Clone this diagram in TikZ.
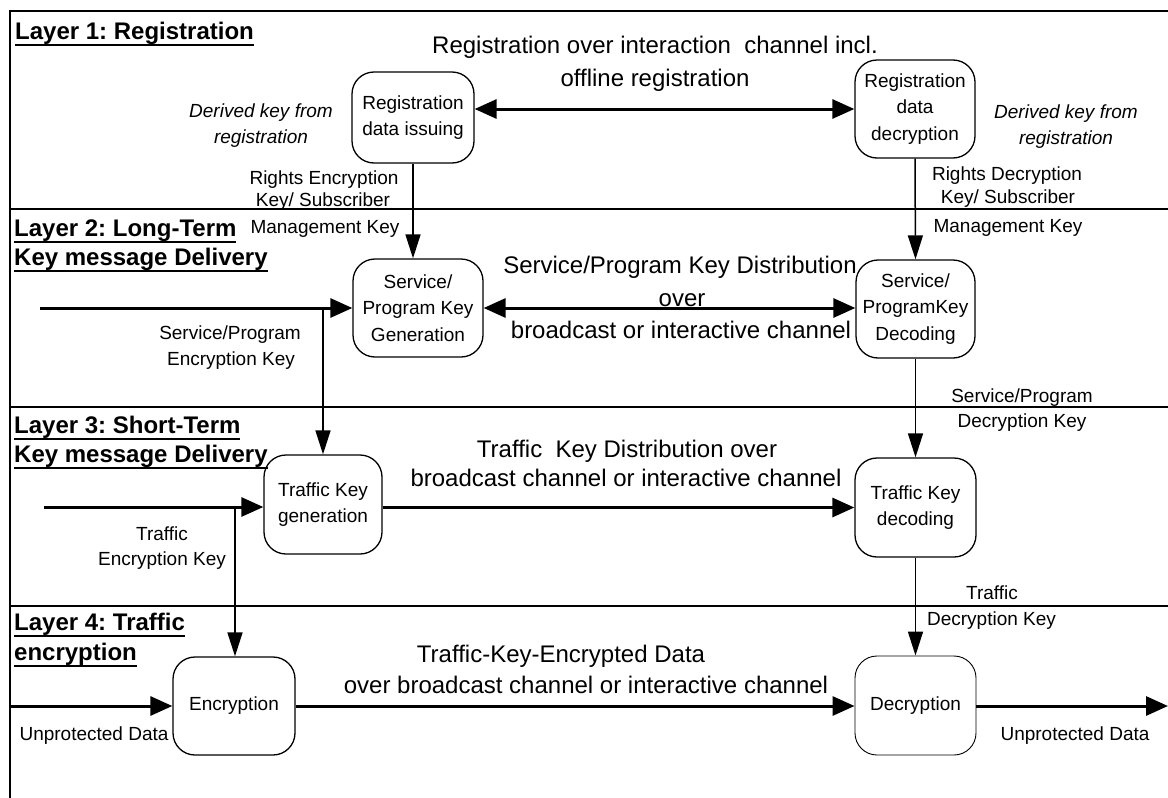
\documentclass[tikz,border=0pt]{standalone}
\usepackage{fontspec}
\setmainfont{Liberation Sans}
\usetikzlibrary{arrows.meta,calc}
\newcommand\myul[1]{\setbox0\hbox{#1}\rlap{\rule[-6.6pt]{\wd0}{1.8pt}}\box0}
\frenchspacing
\begin{document}
\begin{tikzpicture}[x=1pt,y=-1pt,
  every node/.style={inner sep=0pt},
  lbl/.style={font=\fontsize{19}{24}\selectfont, anchor=base},
  ilbl/.style={font=\fontsize{19}{24}\selectfont\itshape, anchor=base},
  big/.style={font=\fontsize{24}{30}\selectfont, anchor=base},
  ttl/.style={font=\fontsize{24}{29}\selectfont\bfseries, anchor=base west},
  proc/.style={draw, line width=1.3pt, rounded corners=22pt, align=center,
    font=\fontsize{19}{26.5}\selectfont},
  layer/.style={line width=2pt},
  frame/.style={line width=1.6pt},
  flow/.style={line width=3pt, -{Triangle[length=22pt,width=19pt]}},
  flowtwo/.style={line width=3pt, {Triangle[length=22pt,width=19pt]}-{Triangle[length=22pt,width=19pt]}},
  keyarrow/.style={line width=1.5pt, -{Triangle[length=24pt,width=15pt]}},
  keyline/.style={line width=1.5pt}
]
\useasboundingbox (0,0) rectangle (1168,798);

% frame and layer separators
\coordinate (fbl) at (10,798);
\coordinate (ftl) at (10,11);
\coordinate (ftr) at (1168,11);
\draw[frame] (fbl) -- (ftl) -- (ftr);
\coordinate (l2a) at (10,209);  \coordinate (l2b) at (1168,209);
\coordinate (l3a) at (10,407);  \coordinate (l3b) at (1168,407);
\coordinate (l4a) at (10,606);  \coordinate (l4b) at (1168,606);
\draw[layer] (l2a) -- (l2b);
\draw[layer] (l3a) -- (l3b);
\draw[layer] (l4a) -- (l4b);

% layer titles
\node[ttl] (t1)  at (15,39)  {\myul{Layer 1: Registration}};
\node[ttl] (t2a) at (14,236) {\myul{Layer 2: Long-Term}};
\node[ttl] (t2b) at (14,265) {\myul{Key message Delivery}};
\node[ttl] (t3a) at (14,433) {\myul{Layer 3: Short-Term}};
\node[ttl] (t3b) at (14,462) {\myul{Key message Delivery}};
\node[ttl] (t4a) at (14,630) {\myul{Layer 4: Traffic}};
\node[ttl] (t4b) at (14,660) {\myul{encryption}};

% process boxes
\node[proc, minimum width=122pt, minimum height=91pt] (b1) at (413,117.5) {Registration\\data issuing};
\node[proc, minimum width=120pt, minimum height=98pt] (b2) at (915,109) {Registration\\data\\decryption};
\node[proc, minimum width=130pt, minimum height=98pt] (b3) at (418,308) {Service/\\Program Key\\Generation};
\node[proc, minimum width=119pt, minimum height=98pt] (b4) at (915.5,309) {Service/\\ProgramKey\\Decoding};
\node[proc, minimum width=118pt, minimum height=99pt] (b5) at (323,504.5) {Traffic Key\\generation};
\node[proc, minimum width=121pt, minimum height=99pt] (b6) at (915.5,507.5) {Traffic Key\\decoding};
\node[proc, minimum width=122pt, minimum height=98pt] (b7) at (234,706) {Encryption};
\node[proc, line width=0.9pt, minimum width=121pt, minimum height=99pt] (b8) at (915.5,705.5) {Decryption};

% connectors
\draw[flowtwo] (b1.east |- b2.west) -- (b2.west);
\draw[keyarrow] (b1.south) -- (b1.south |- b3.north);
\draw[keyarrow] (b2.south) -- (b4.north);
\draw[flowtwo] (b3.east) -- (b3.east -| b4.west);
\coordinate (in2) at (40,308);
\coordinate (j2) at (323,308);
\draw[flow] (in2) -- (b3.west);
\draw[keyarrow] (j2) -- (j2 |- b5.north);
\draw[keyarrow] (b4.south) -- (b6.north);
\draw[flow] (b5.east |- b6.west) -- (b6.west);
\coordinate (in3) at (44,507);
\coordinate (j3) at (235,507);
\draw[flow] (in3) -- (b5.west |- in3);
\draw[keyarrow] (j3) -- (j3 |- b7.north);
\draw[keyarrow] (b6.south) -- (b8.north);
\draw[flow] (b7.east) -- (b7.east -| b8.west);
\coordinate (in4) at (10,706);
\coordinate (out4) at (1168,706);
\draw[flow] (in4) -- (b7.west);
\draw[flow] (b8.east |- out4) -- (out4);

% layer 1 labels
\node[big] (c1a) at (655,53) {Registration over interaction~ channel incl.};
\node[big] (c1b) at (655,86) {offline registration};
\node[ilbl] (d1a) at (261,117) {Derived key from};
\node[ilbl] (d1b) at (261,143) {registration};
\node[ilbl] (d2a) at (1066,118) {Derived key from};
\node[ilbl] (d2b) at (1066,144) {registration};
\node[lbl] (r1a) at (324,184) {Rights Encryption};
\node[lbl] (r1b) at (323,206) {Key/ Subscriber};
\node[lbl] (r1c) at (325,233) {Management Key};
\node[lbl] (r2a) at (1007,180) {Rights Decryption};
\node[lbl] (r2b) at (1008,203) {Key/ Subscriber};
\node[lbl] (r2c) at (1008,232) {Management Key};

% layer 2 labels
\node[big] (c2a) at (680,273) {Service/Program Key Distribution};
\node[big] (c2b) at (682,306) {over};
\node[big] (c2c) at (681,338) {broadcast or interactive channel};
\node[lbl] (s1a) at (230,339) {Service/Program};
\node[lbl] (s1b) at (231,365) {Encryption Key};
\node[lbl] (s2a) at (1022,402) {Service/Program};
\node[lbl] (s2b) at (1022,427) {Decryption Key};

% layer 3 labels
\node[big] (c3a) at (627,457) {Traffic~ Key Distribution over};
\node[big] (c3b) at (626,486) {broadcast channel or interactive channel};
\node[lbl] (k1a) at (162,540) {Traffic};
\node[lbl] (k1b) at (162,565) {Encryption Key};
\node[lbl] (k2a) at (992,599) {Traffic};
\node[lbl] (k2b) at (991.5,625) {Decryption Key};

% layer 4 labels
\node[big] (c4a) at (561,662) {Traffic-Key-Encrypted Data};
\node[big] (c4b) at (586,693) {over broadcast channel or interactive channel};
\node[lbl] (u1) at (94,740) {Unprotected Data};
\node[lbl] (u2) at (1075,740) {Unprotected Data};
\end{tikzpicture}
\end{document}
